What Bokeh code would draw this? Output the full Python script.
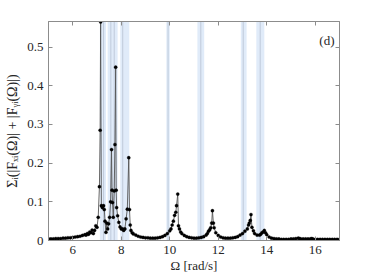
from bokeh.plotting import figure
from bokeh.models import Range1d, FixedTicker, LinearAxis, Label, ColumnDataSource
from bokeh.embed import file_html
from bokeh.resources import INLINE

# ---- data ----
omega = [5.0, 5.1, 5.2, 5.3, 5.4, 5.5, 5.6, 5.7, 5.8, 5.9, 6.0, 6.1, 6.2, 6.3, 6.4,
         6.5, 6.55, 6.6, 6.65, 6.7, 6.75, 6.8, 6.85, 6.9, 6.95, 7.0, 7.05, 7.1, 7.13,
         7.15, 7.18, 7.22, 7.27, 7.3, 7.33, 7.37, 7.4, 7.44, 7.48, 7.52, 7.56, 7.6,
         7.62, 7.64, 7.67, 7.71, 7.74, 7.77, 7.79, 7.81, 7.85, 7.9, 7.95, 8.0, 8.05,
         8.1, 8.15, 8.2, 8.25, 8.31, 8.34, 8.37, 8.4, 8.45, 8.5, 8.6, 8.7, 8.8, 8.9,
         9.0, 9.1, 9.2, 9.3, 9.4, 9.5, 9.6, 9.7, 9.8, 9.9, 10.0, 10.05, 10.1, 10.15,
         10.2, 10.25, 10.28, 10.33, 10.36, 10.4, 10.45, 10.5, 10.6, 10.7, 10.8, 10.9,
         11.0, 11.1, 11.2, 11.3, 11.4, 11.5, 11.55, 11.6, 11.65, 11.69, 11.73, 11.76,
         11.8, 11.83, 11.9, 12.0, 12.1, 12.2, 12.3, 12.4, 12.5, 12.6, 12.7, 12.8, 12.9,
         13.0, 13.1, 13.2, 13.25, 13.28, 13.32, 13.35, 13.39, 13.45, 13.5, 13.6, 13.7,
         13.75, 13.8, 13.85, 13.9, 13.95, 14.0, 14.1, 14.2, 14.3, 14.4, 14.5, 14.6,
         14.7, 14.8, 14.9, 15.0, 15.1, 15.2, 15.3, 15.35, 15.4, 15.5, 15.6, 15.7, 15.8,
         15.85, 15.9, 16.0, 16.1, 16.2, 16.3, 16.4, 16.5, 16.6, 16.7, 16.8, 16.9, 17.0]
amp = [0.004, 0.004, 0.004, 0.005, 0.005, 0.005, 0.006, 0.006, 0.007, 0.007, 0.008,
       0.009, 0.010, 0.011, 0.013, 0.015, 0.014, 0.018, 0.016, 0.022, 0.020, 0.027,
       0.018, 0.026, 0.038, 0.034, 0.060, 0.139, 0.285, 0.565, 0.090, 0.085, 0.090,
       0.080, 0.050, 0.021, 0.045, 0.030, 0.043, 0.060, 0.100, 0.235, 0.130, 0.098,
       0.060, 0.128, 0.248, 0.448, 0.130, 0.085, 0.064, 0.047, 0.035, 0.030, 0.030,
       0.026, 0.030, 0.056, 0.081, 0.214, 0.080, 0.040, 0.026, 0.020, 0.017, 0.014,
       0.011, 0.009, 0.008, 0.007, 0.007, 0.006, 0.006, 0.006, 0.007, 0.008, 0.010,
       0.013, 0.018, 0.025, 0.030, 0.040, 0.050, 0.065, 0.073, 0.090, 0.120, 0.038,
       0.030, 0.022, 0.018, 0.013, 0.010, 0.008, 0.007, 0.006, 0.006, 0.007, 0.008,
       0.010, 0.014, 0.018, 0.024, 0.028, 0.033, 0.045, 0.077, 0.045, 0.033, 0.020,
       0.013, 0.009, 0.007, 0.006, 0.006, 0.006, 0.007, 0.008, 0.010, 0.014, 0.018,
       0.024, 0.030, 0.040, 0.045, 0.052, 0.067, 0.034, 0.025, 0.018, 0.014, 0.014,
       0.016, 0.020, 0.022, 0.026, 0.020, 0.015, 0.009, 0.006, 0.005, 0.004, 0.004,
       0.003, 0.003, 0.003, 0.003, 0.004, 0.004, 0.005, 0.006, 0.005, 0.004, 0.004,
       0.004, 0.004, 0.004, 0.005, 0.004, 0.003, 0.003, 0.003, 0.003, 0.003, 0.003,
       0.003, 0.003, 0.003, 0.003, 0.003, 0.003]

band_lo = [7.12, 7.44, 7.96, 9.86, 11.14, 12.93, 13.57]
band_hi = [7.37, 7.85, 8.33, 10.00, 11.42, 13.17, 13.90]
mode_lines = [7.27, 7.57, 7.71, 8.06, 9.93, 11.28, 13.03, 13.73]

x_ticks = [6, 8, 10, 12, 14, 16]
y_ticks = [0, 0.1, 0.2, 0.3, 0.4, 0.5]
y_tick_labels = ["0", "0.1", "0.2", "0.3", "0.4", "0.5"]
x_min, x_max = 5, 17
y_min, y_max = 0, 0.566
panel_tag = "(d)"

FONT = "'Liberation Serif', 'Times New Roman', serif"
AXC = "#8c8c8c"
TXT = "#262626"

p = figure(frame_width=291, frame_height=219, output_backend="svg", toolbar_location=None,
           x_range=Range1d(x_min, x_max), y_range=Range1d(y_min, y_max),
           min_border_left=48, min_border_right=27, min_border_top=21,
           min_border_bottom=32)
p.grid.visible = False
p.background_fill_color = "white"
p.border_fill_color = "white"
p.outline_line_color = AXC
p.outline_line_width = 1

# bands
bsrc = ColumnDataSource(dict(left=band_lo, right=band_hi,
                             bottom=[y_min] * len(band_lo), top=[y_max] * len(band_lo)))
p.quad(left="left", right="right", bottom="bottom", top="top", source=bsrc,
       fill_color="#dde9f8", fill_alpha=0.9, line_color=None)
lsrc = ColumnDataSource(dict(x=mode_lines, y0=[y_min] * len(mode_lines),
                             y1=[y_max] * len(mode_lines)))
p.segment(x0="x", y0="y0", x1="x", y1="y1", source=lsrc,
          line_color="#98a3b5", line_width=0.9, line_dash="1 1")

# data
src = ColumnDataSource(dict(x=omega, y=amp))
p.line("x", "y", source=src, line_color="#555555", line_width=0.9)
p.scatter("x", "y", source=src, size=3.2, fill_color="black", line_color="black",
          line_width=0.3)

# axes styling
for ax in (p.xaxis[0], p.yaxis[0]):
    ax.axis_line_color = AXC
    ax.major_tick_line_color = AXC
    ax.major_tick_in = 4
    ax.major_tick_out = 0
    ax.minor_tick_line_color = None
    ax.major_label_text_font = FONT
    ax.major_label_text_font_size = "13px"
    ax.major_label_text_color = TXT
    ax.axis_label_text_font = FONT
    ax.axis_label_text_font_size = "13px"
    ax.axis_label_text_font_style = "normal"
    ax.axis_label_text_color = TXT

p.xaxis[0].ticker = FixedTicker(ticks=x_ticks)
p.yaxis[0].ticker = FixedTicker(ticks=y_ticks)
p.yaxis[0].major_label_overrides = {t: l for t, l in zip(y_ticks, y_tick_labels)}
p.xaxis[0].major_label_standoff = 5
p.yaxis[0].major_label_standoff = 5
p.xaxis[0].axis_label = "Ω [rad/s]"
p.xaxis[0].axis_label_standoff = 1
p.yaxis[0].axis_label = "Σᵢ(|Fₓᵢ(Ω)| + |Fᵧᵢ(Ω)|)"
p.yaxis[0].axis_label_text_font_size = "14px"
p.yaxis[0].axis_label_standoff = 4

# mirrored ticks on top and right (no labels)
top_ax = LinearAxis(ticker=FixedTicker(ticks=x_ticks),
                    major_label_overrides={t: "" for t in x_ticks})
right_ax = LinearAxis(ticker=FixedTicker(ticks=y_ticks),
                      major_label_overrides={t: "" for t in y_ticks})
for ax in (top_ax, right_ax):
    ax.axis_line_color = AXC
    ax.major_tick_line_color = AXC
    ax.major_tick_in = 4
    ax.major_tick_out = 0
    ax.minor_tick_line_color = None
    ax.major_label_standoff = 0
p.add_layout(top_ax, "above")
p.add_layout(right_ax, "right")

p.add_layout(Label(x=x_max, y=y_max, x_offset=-5, y_offset=-19, text=panel_tag,
                   text_align="right", text_baseline="middle",
                   text_font=FONT, text_font_size="13px", text_color=TXT))

open("out.html", "w").write(file_html(p, INLINE))
